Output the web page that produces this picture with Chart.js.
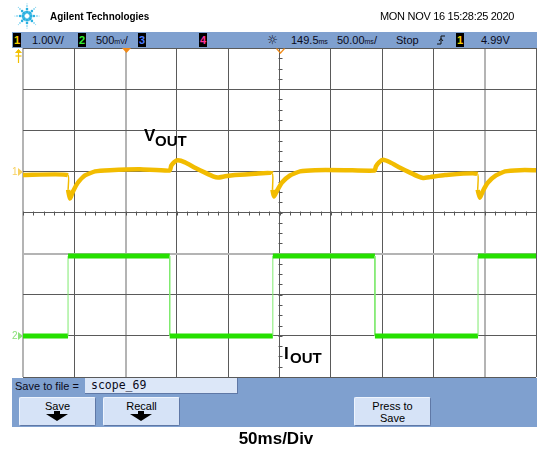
<!DOCTYPE html>
<html>
<head>
<meta charset="utf-8">
<title>Scope capture - 50ms/Div</title>
<script src="https://cdn.jsdelivr.net/npm/chart.js@4.4.0/dist/chart.umd.min.js"></script>
<style>
    html, body { margin: 0; padding: 0; background: #fff; }
    body {
        width: 537px; height: 450px; position: relative; overflow: hidden;
        font-family: "Liberation Sans", Arial, sans-serif; color: #000;
    }
    #scope { position: absolute; left: 0; top: 0; }
    .abs { position: absolute; white-space: nowrap; line-height: 1; }

    /* top bar */
    .bar { position: absolute; background: #7fa0cf; }
    .chbox {
        position: absolute; top: 33px; width: 8px; height: 14px; background: #000;
        font-size: 11px; font-weight: bold; text-align: center; line-height: 14px;
    }
    .st { position: absolute; top: 35px; font-size: 11px; line-height: 1; white-space: nowrap; color: #0a0a1a; }
    .u { font-size: 7px; }

    /* bottom panel */
    .btn {
        position: absolute; top: 397px; width: 75px; height: 27px;
        background: #d6e3f7; border: 1px solid #5f78a6; border-top-color: #eef4fd; border-left-color: #eef4fd;
        border-radius: 2px; font-size: 11px; text-align: center; line-height: 1;
    }
    .lbl { position: absolute; font-weight: bold; line-height: 1; white-space: nowrap; color: #000; }
</style>
</head>
<body>
<canvas id="scope" width="537" height="450"></canvas>

<!-- header -->
<svg class="abs" style="left:14px;top:3px" width="26" height="26" viewBox="0 0 30 30" id="logo"></svg>
<div class="abs" style="left:50px;top:11px;font-size:11px;font-weight:bold;transform:scaleX(0.9);transform-origin:left">Agilent Technologies</div>
<div class="abs" style="left:380px;top:11px;font-size:11px;letter-spacing:-0.3px">MON NOV 16 15:28:25 2020</div>

<!-- status bar -->
<div class="bar" style="left:12px;top:32px;width:525px;height:16px"></div>
<div class="chbox" style="left:13px;color:#f5d000">1</div>
<div class="st" style="left:32px">1.00V/</div>
<div class="chbox" style="left:78px;color:#33ee33">2</div>
<div class="st" style="left:96px">500<span class="u">mV</span>/</div>
<div class="chbox" style="left:138px;color:#4d7dff">3</div>
<div class="chbox" style="left:199px;color:#ff3399">4</div>
<div class="st" style="left:267px;font-family:'DejaVu Sans';font-size:12px;top:34px">☼</div>
<div class="st" style="left:291px">149.5<span class="u">ms</span></div>
<div class="st" style="left:337px">50.00<span class="u">ms</span>/</div>
<div class="st" style="left:396px">Stop</div>
<svg class="abs" style="left:437px;top:35px" width="8" height="11" viewBox="0 0 8 11">
    <polyline points="0,9 4,9 4,1 8,1" fill="none" stroke="#111" stroke-width="1"/>
    <polyline points="2,6 4,3.5 6,6" fill="none" stroke="#111" stroke-width="1"/>
</svg>
<div class="chbox" style="left:456px;color:#f5d000">1</div>
<div class="st" style="left:481px">4.99V</div>

<!-- channel / trigger markers -->
<svg class="abs" style="left:14px;top:49px" width="9" height="14" viewBox="0 0 9 14">
    <polyline points="1.5,4 4.5,0.5 7.5,4" fill="#f2c000" stroke="#f2c000"/>
    <line x1="4.5" y1="3" x2="4.5" y2="14" stroke="#f2c000" stroke-width="1.2"/>
    <line x1="1.5" y1="7" x2="7.5" y2="7" stroke="#f2c000" stroke-width="1.2"/>
</svg>
<div class="abs" style="left:12px;top:167px;font-size:10px;color:#f7d060">1</div>
<svg class="abs" style="left:18px;top:168px" width="5" height="8"><polygon points="0,0 5,4 0,8" fill="#f7d060"/></svg>
<div class="abs" style="left:12px;top:331px;font-size:10px;color:#8be07a">2</div>
<svg class="abs" style="left:18px;top:332px" width="5" height="8"><polygon points="0,0 5,4 0,8" fill="#8be07a"/></svg>
<svg class="abs" style="left:122px;top:48px" width="9" height="6"><polygon points="0,0 9,0 4.5,5" fill="#f08a18"/></svg>
<svg class="abs" style="left:276px;top:48px" width="9" height="6"><polyline points="0.5,0.5 4.5,5 8.5,0.5" fill="none" stroke="#f08a18" stroke-width="1.2"/></svg>

<!-- trace labels -->
<div class="lbl" style="left:144px;top:127px;font-size:17px">V</div>
<div class="lbl" style="left:155px;top:133px;font-size:15px">OUT</div>
<div class="lbl" style="left:284px;top:345px;font-size:17px">I</div>
<div class="lbl" style="left:290px;top:350px;font-size:15px">OUT</div>

<!-- bottom panel -->
<div class="bar" style="left:12px;top:378px;width:525px;height:49px"></div>
<div class="abs" style="left:15px;top:381px;font-size:11px;color:#0a0a1a">Save to file =</div>
<div class="abs" style="left:85px;top:378px;width:152px;height:15px;background:#dce7f8;border-right:1px solid #5f78a6;border-bottom:1px solid #5f78a6"></div>
<div class="abs" style="left:91px;top:380px;font-size:11.5px;font-family:'DejaVu Sans Mono',monospace;color:#0a0a1a">scope_69</div>
<div class="btn" style="left:19px"><div style="margin-top:3px">Save</div></div>
<div class="btn" style="left:103px"><div style="margin-top:3px">Recall</div></div>
<div class="btn" style="left:354px"><div style="margin-top:3px">Press to</div><div style="margin-top:1px">Save</div></div>
<svg class="abs arrow" style="left:46px;top:411px" width="22" height="10" viewBox="0 0 22 10"><rect x="8" y="0" width="6" height="3" fill="#000"/><polygon points="0,3 22,3 11,10" fill="#000"/></svg>
<svg class="abs arrow" style="left:130px;top:411px" width="22" height="10" viewBox="0 0 22 10"><rect x="8" y="0" width="6" height="3" fill="#000"/><polygon points="0,3 22,3 11,10" fill="#000"/></svg>

<div class="lbl" style="left:0;width:552px;text-align:center;top:430px;font-size:17px">50ms/Div</div>

<script>
// ===========================================
// DATA (time in ms, amplitude in divisions from screen centre)
// ===========================================
const xTicks = [0, 50, 100, 150, 200, 250, 300, 350, 400, 450, 500];
const yTicks = [-4, -3, -2, -1, 0, 1, 2, 3, 4];

// Vout (channel 1, yellow)
const vTime = [0, 43.8, 44.0, 45.8, 48.7, 53.6, 60.4, 70.2, 84.8, 114, 143.0, 144.5, 147.5, 151,
    157.9, 167.6, 177.4, 185.2, 190, 196.9, 206.6, 226.1, 243.0, 243.2, 244.7, 247.6, 252.4, 260.2,
    270, 284.6, 313.9, 342.6, 344, 347, 350.9, 357.7, 367.5, 377.2, 385, 389.9, 396.7, 411.3,
    443.0, 443.2, 445.4, 448.4, 453.2, 461, 469.8, 484.4, 500];
const vOut = [0.91, 0.91, 0.55, 0.34, 0.51, 0.73, 0.90, 1.00, 1.03, 1.05, 1.02, 1.14, 1.23, 1.27,
    1.22, 1.09, 0.97, 0.88, 0.85, 0.88, 0.91, 0.94, 0.95, 0.55, 0.39, 0.53, 0.73, 0.90,
    1.00, 1.03, 1.03, 1.02, 1.12, 1.22, 1.28, 1.22, 1.09, 0.97, 0.88, 0.84, 0.86, 0.91,
    0.94, 0.55, 0.36, 0.53, 0.73, 0.90, 1.00, 1.03, 1.03];

// Iout (channel 2, green) - load steps
const iTime = [0, 43.9, 43.9, 143, 143, 243.5, 243.5, 343, 343, 443.5, 443.5, 500];
const iOut = [-3.0, -3.0, -1.06, -1.06, -3.0, -3.0, -1.06, -1.06, -3.0, -3.0, -1.06, -1.06];

// ===========================================
// HELPERS
// ===========================================
function toPoints(xs, ys) {
    return xs.map((x, i) => ({ x: x, y: ys[i] }));
}

function isEdge(ctx) {
    return Math.abs(ctx.p1.parsed.x - ctx.p0.parsed.x) < 0.5;
}

function buildLogo() {
    const svg = document.getElementById('logo');
    const ns = 'http://www.w3.org/2000/svg';
    const radii = [4.5, 8, 11.5, 14];
    const sizes = [1.9, 1.5, 1.1, 0.7];
    for (let a = 0; a < 8; a++) {
        const ang = a * Math.PI / 4;
        radii.forEach((r, k) => {
            const c = document.createElementNS(ns, 'circle');
            c.setAttribute('cx', 15 + r * Math.cos(ang));
            c.setAttribute('cy', 15 + r * Math.sin(ang));
            c.setAttribute('r', sizes[k]);
            c.setAttribute('fill', k < 2 ? '#2ab0e0' : '#8fd8f2');
            svg.appendChild(c);
        });
        const ang2 = ang + Math.PI / 8;
        const c2 = document.createElementNS(ns, 'circle');
        c2.setAttribute('cx', 15 + 5.5 * Math.cos(ang2));
        c2.setAttribute('cy', 15 + 5.5 * Math.sin(ang2));
        c2.setAttribute('r', 1);
        c2.setAttribute('fill', '#5cc4ea');
        svg.appendChild(c2);
    }
}

// minor ticks on the centre cross of the graticule
const centreTicks = {
    id: 'centreTicks',
    beforeDatasetsDraw(chart) {
        const ctx = chart.ctx;
        const xs = chart.scales.x, ys = chart.scales.y;
        const cx = Math.round(xs.getPixelForValue(250)) + 0.5;
        const cy = Math.round(ys.getPixelForValue(0)) + 0.5;
        ctx.save();
        ctx.strokeStyle = '#555';
        ctx.lineWidth = 1;
        ctx.beginPath();
        for (let t = 0; t <= 500; t += 10) {
            const px = Math.round(xs.getPixelForValue(t)) + 0.5;
            ctx.moveTo(px, cy - 2);
            ctx.lineTo(px, cy + 2);
        }
        for (let v = -4; v <= 4; v += 0.25) {
            const py = Math.round(ys.getPixelForValue(v)) + 0.5;
            ctx.moveTo(cx - 2, py);
            ctx.lineTo(cx + 2, py);
        }
        ctx.stroke();
        ctx.restore();
    }
};

// ===========================================
// CHART
// ===========================================
buildLogo();

new Chart(document.getElementById('scope'), {
    type: 'line',
    data: {
        datasets: [
            {
                label: 'Vout',
                data: toPoints(vTime, vOut),
                borderColor: '#f2bc00',
                borderWidth: 4.5,
                pointRadius: 0,
                tension: 0.15,
                segment: {
                    borderWidth: ctx => isEdge(ctx) ? 1.5 : undefined
                }
            },
            {
                label: 'Iout',
                data: toPoints(iTime, iOut),
                borderColor: '#26e000',
                borderWidth: 5,
                pointRadius: 0,
                tension: 0,
                segment: {
                    borderWidth: ctx => isEdge(ctx) ? 1 : undefined,
                    borderColor: ctx => isEdge(ctx) ? '#7fea6f' : undefined
                }
            }
        ]
    },
    options: {
        responsive: false,
        animation: false,
        devicePixelRatio: 1,
        layout: { padding: { left: 23, top: 48, right: 1, bottom: 73 } },
        plugins: {
            legend: { display: false },
            tooltip: { enabled: false }
        },
        scales: {
            x: {
                type: 'linear',
                min: 0,
                max: 500,
                afterBuildTicks: axis => { axis.ticks = xTicks.map(v => ({ value: v })); },
                ticks: { display: false },
                border: { display: false },
                grid: {
                    drawTicks: false,
                    color: c => [0, 100, 450].includes(c.tick.value) ? '#b4b4b4' : '#5a5a5a',
                    lineWidth: c => [0, 100, 450].includes(c.tick.value) ? 2 : 1
                }
            },
            y: {
                type: 'linear',
                min: -4,
                max: 4,
                afterBuildTicks: axis => { axis.ticks = yTicks.map(v => ({ value: v })); },
                ticks: { display: false },
                border: { display: false },
                grid: {
                    drawTicks: false,
                    color: c => c.tick.value === -1 ? '#b4b4b4' : '#5a5a5a',
                    lineWidth: c => c.tick.value === -1 ? 2 : 1
                }
            }
        }
    },
    plugins: [centreTicks]
});
</script>
</body>
</html>
